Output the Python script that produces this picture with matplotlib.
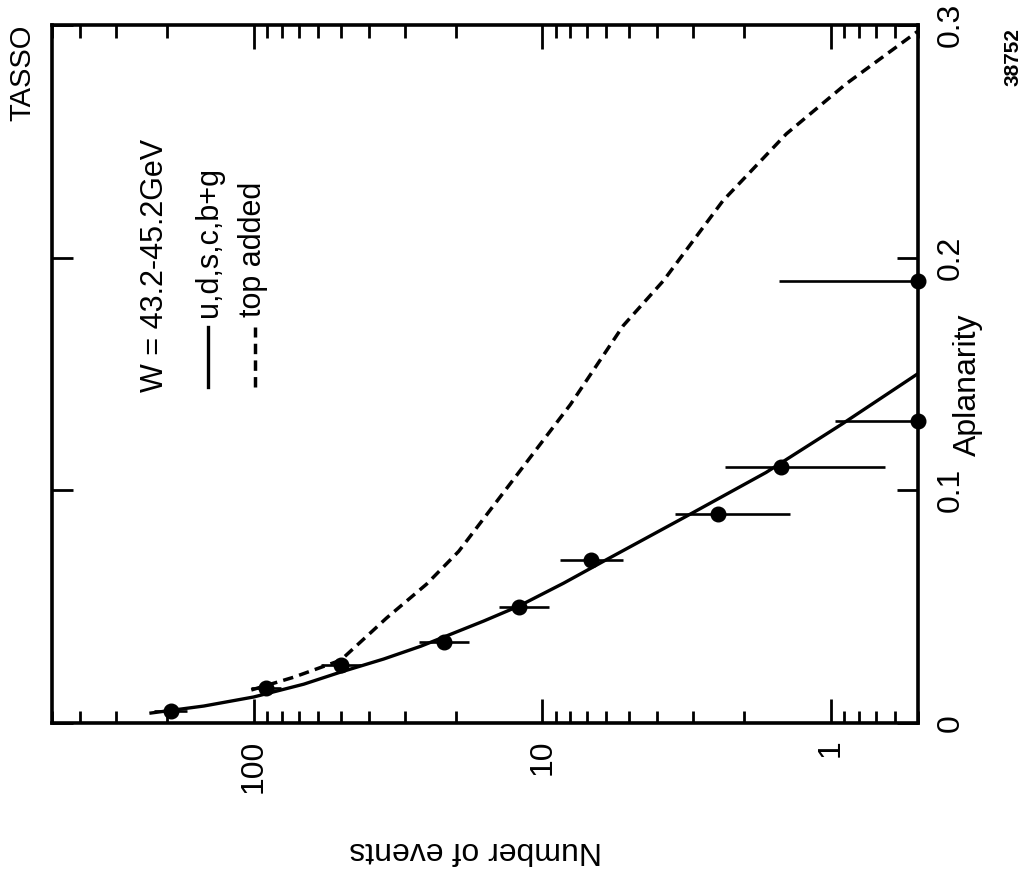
import numpy as np
import matplotlib.pyplot as plt
from matplotlib.ticker import LogLocator, NullFormatter

plt.rcParams['font.family'] = ['Liberation Sans', 'DejaVu Sans']

# measured aplanarity bins and event counts
aplanarity = np.array([0.005, 0.015, 0.025, 0.035, 0.05, 0.07, 0.09, 0.11, 0.13, 0.19])
n_events = np.array([194, 91, 50, 22, 12.1, 6.8, 2.46, 1.49, 0.5, 0.5])
n_upper = np.array([222, 102, 58.6, 26.8, 14.1, 8.7, 3.47, 2.33, 0.97, 1.51])
n_lower = np.array([170, 80.5, 42.6, 18.0, 9.5, 5.25, 1.39, 0.65, 0.5, 0.5])

# model: u,d,s,c,b + gluon
udscb_n = [227, 149, 100, 67.1, 50.0, 35.5, 26.4, 16.0, 12.1, 8.45, 6.15, 3.18, 1.68, 0.909, 0.5]
udscb_a = [0.0043, 0.0073, 0.0112, 0.0167, 0.0219, 0.0275, 0.0330, 0.0438, 0.0502,
           0.0601, 0.0695, 0.0888, 0.1077, 0.1288, 0.1502]

# model with top quark added
top_n = [102, 72.7, 50.0, 40.6, 34.7, 25.2, 19.5, 12.3, 8.0, 5.25, 3.81, 2.37, 1.43, 0.888, 0.5]
top_a = [0.0142, 0.0197, 0.0270, 0.0373, 0.0451, 0.0597, 0.0738, 0.1064, 0.1369,
         0.1708, 0.1901, 0.2245, 0.2532, 0.2747, 0.2974]

fig = plt.figure(figsize=(10.24, 8.73), dpi=100)
ax = fig.add_axes([0.0508, 0.1718, 0.8457, 0.7995])

ax.plot(udscb_n, udscb_a, color='k', lw=2.4)
ax.plot(top_n, top_a, color='k', lw=2.5, dashes=(3.0, 1.8))

ax.errorbar(n_events, aplanarity, xerr=[n_events - n_lower, n_upper - n_events],
            fmt='none', ecolor='k', elinewidth=1.9, capsize=0)
ax.plot(n_events, aplanarity, 'o', color='k', ms=10.5, clip_on=False, zorder=5)

ax.set_xscale('log')
ax.set_xlim(500, 0.5)
ax.set_ylim(0, 0.3)

ax.set_xticks([100, 10, 1])
ax.set_xticklabels(['100', '10', '1'])
ax.xaxis.set_minor_locator(LogLocator(base=10, subs=np.arange(2, 10)))
ax.xaxis.set_minor_formatter(NullFormatter())
ax.tick_params(axis='x', which='both', direction='in', top=True, bottom=True)
ax.tick_params(axis='x', which='major', length=17, width=2, pad=12,
               labelsize=23, labelrotation=90)
ax.tick_params(axis='x', which='minor', length=9, width=2)

ax.set_yticks([0, 0.1, 0.2, 0.3])
ax.set_yticklabels(['0', '0.1', '0.2', '0.3'])
ax.yaxis.tick_right()
ax.tick_params(axis='y', direction='in', left=True, right=True, labelleft=False,
               labelright=True, length=15, width=2, pad=13, labelsize=23,
               labelrotation=90)
for lbl in ax.get_yticklabels():
    lbl.set_va('center')

for sp in ax.spines.values():
    sp.set_linewidth(2.6)

# legend drawn by hand, rotated with the rest of the page
ax.text(0.119, 0.474, 'W = 43.2-45.2GeV', transform=ax.transAxes, rotation=90,
        ha='center', va='bottom', fontsize=22)
ax.plot([0.180, 0.180], [0.481, 0.567], transform=ax.transAxes, color='k', lw=2.4)
ax.text(0.181, 0.582, 'u,d,s,c,b+g', transform=ax.transAxes, rotation=90,
        ha='center', va='bottom', fontsize=22)
ax.plot([0.234, 0.234], [0.481, 0.567], transform=ax.transAxes, color='k', lw=2.5,
        dashes=(3.0, 1.8))
ax.text(0.232, 0.582, 'top added', transform=ax.transAxes, rotation=90,
        ha='center', va='bottom', fontsize=22)

fig.text(22 / 1024, 1 - 73 / 873, 'TASSO', rotation=90, ha='center', va='center',
         fontsize=21)
fig.text(1013 / 1024, 1 - 57 / 873, '38752', rotation=90, ha='center', va='center',
         fontsize=15, fontweight='bold')
fig.text(476 / 1024, 1 - 850 / 873, 'Number of events', rotation=180, ha='center',
         va='center', fontsize=23)
fig.text(968 / 1024, 1 - 385 / 873, 'Aplanarity', rotation=90, ha='center',
         va='center', fontsize=23)

fig.savefig('out.png', dpi=100)
